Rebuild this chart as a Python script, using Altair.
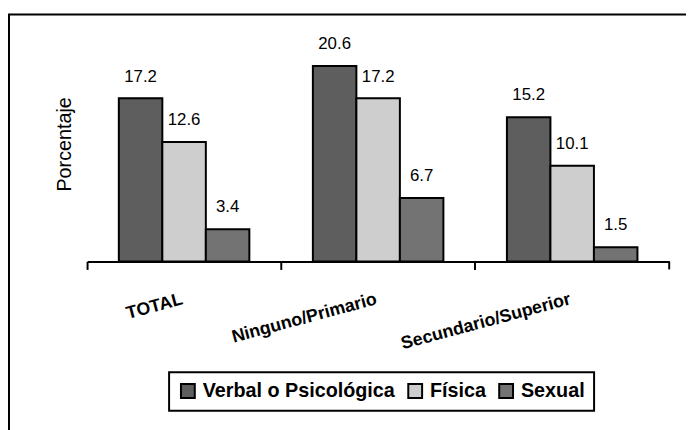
import altair as alt
import pandas as pd

categories = ["TOTAL", "Ninguno/Primario", "Secundario/Superior"]
types = ["Verbal o Psicológica", "Física", "Sexual"]
verbal = [17.2, 20.6, 15.2]
fisica = [12.6, 17.2, 10.1]
sexual = [3.4, 6.7, 1.5]
colors = ["#5e5e5e", "#cecece", "#737373"]

rows = []
for i, c in enumerate(categories):
    for t, vals in zip(types, [verbal, fisica, sexual]):
        rows.append({"cat": c, "tipo": t, "valor": vals[i]})
df = pd.DataFrame(rows)

W, H = 589, 240
FONT = "Liberation Sans"

xaxis = alt.Axis(
    title=None, bandPosition=0, domainColor="black", domainWidth=2,
    tickColor="black", tickWidth=2, tickSize=8, labelAngle=-15,
    labelAlign="right", labelBaseline="top", labelPadding=21, labelOffset=-4,
    labelFont=FONT, labelFontSize=18, labelFontWeight="bold", labelColor="black",
    grid=False, labelLimit=400,
)
xenc = alt.X("cat:N", sort=categories,
             scale=alt.Scale(paddingInner=0, paddingOuter=0), axis=xaxis)
xoff = alt.XOffset("tipo:N", sort=types,
                   scale=alt.Scale(paddingInner=0, paddingOuter=0.73))
yenc = alt.Y("valor:Q", scale=alt.Scale(domain=[0, 25]),
             axis=alt.Axis(title="Porcentaje", domain=False, ticks=False,
                           labels=False, grid=False, titleFont=FONT,
                           titleFontSize=20, titleFontWeight="normal",
                           titleColor="black", titleAngle=-90, titleX=-17,
                           titleY=121, titleAlign="center",
                           titleBaseline="alphabetic"))
color = alt.Color("tipo:N", sort=types,
                  scale=alt.Scale(domain=types, range=colors),
                  legend=alt.Legend(title=None, orient="none", legendX=83,
                                    legendY=352, direction="horizontal",
                                    symbolType="square", symbolSize=196,
                                    symbolStrokeColor="black",
                                    symbolStrokeWidth=2, symbolOpacity=1,
                                    labelFont=FONT, labelFontSize=20,
                                    labelFontWeight="bold", labelColor="black",
                                    labelOffset=5, columnPadding=9,
                                    labelLimit=400,
                                    padding=9, strokeColor="black"))

frame = alt.Chart(pd.DataFrame({"a": [0]})).mark_rect(
    fillOpacity=0, stroke="black", strokeWidth=2
).encode(x=alt.value(-79), x2=alt.value(W + 200),
         y=alt.value(-10), y2=alt.value(H + 300))

bars = alt.Chart(df).mark_bar(stroke="black", strokeWidth=2).encode(
    x=xenc, xOffset=xoff, y=yenc, color=color)

text = alt.Chart(df).mark_text(
    dy=-17, baseline="alphabetic", fontSize=17, font=FONT, color="black"
).encode(x=xenc, xOffset=xoff, y=yenc,
         text=alt.Text("valor:Q", format=".1f"))

end_tick = alt.Chart(pd.DataFrame({"cat": [categories[-1]]})).mark_rule(
    strokeWidth=2, color="black"
).encode(x=alt.X("cat:N", sort=categories, bandPosition=1,
                 scale=alt.Scale(paddingInner=0, paddingOuter=0), axis=xaxis),
         y=alt.value(H), y2=alt.value(H + 8))

chart = alt.layer(frame, bars, text, end_tick).properties(
    width=W, height=H,
    autosize=alt.AutoSizeParams(type="none"),
    padding={"left": 80, "top": 14, "right": 17, "bottom": 168},
).configure_view(stroke=None).configure_legend(strokeWidth=2)

chart.save("out.html", embed_options={"renderer": "svg", "actions": False})
